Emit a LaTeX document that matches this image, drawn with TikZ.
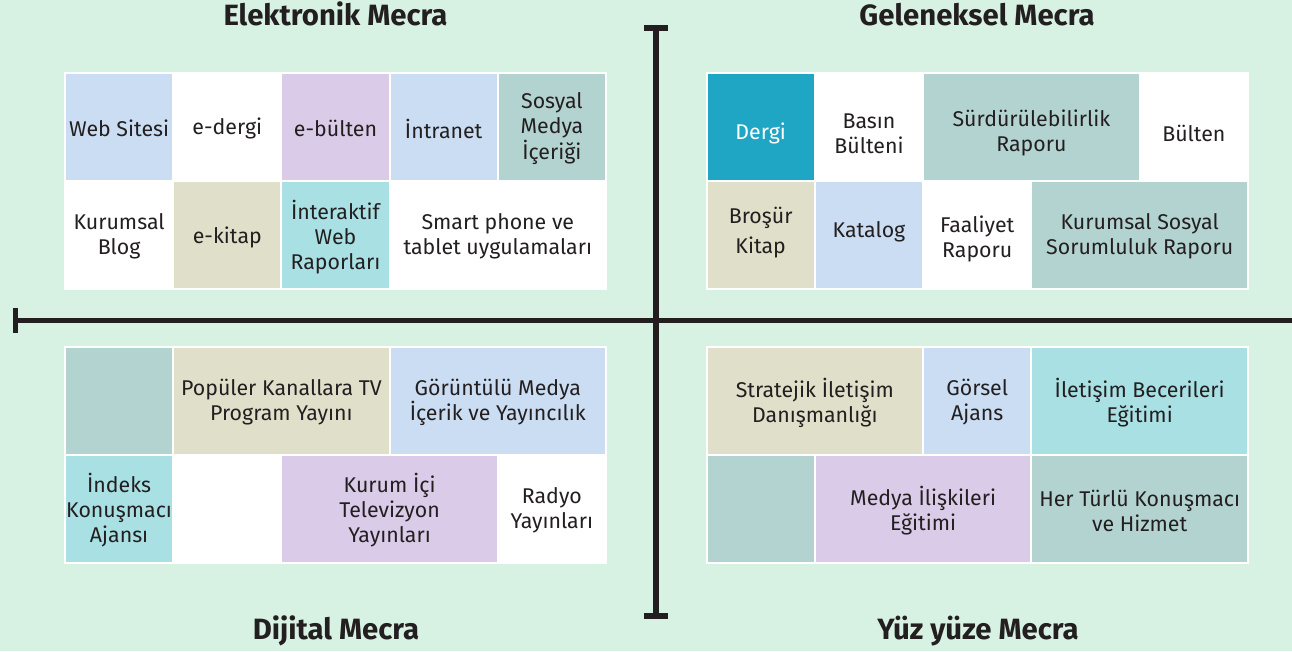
\documentclass[tikz,border=0pt]{standalone}
\usepackage{fontspec}
\setmainfont{Fira Sans}
\definecolor{bg}{HTML}{D7F2E2}
\definecolor{ink}{HTML}{231F20}
\definecolor{lblue}{HTML}{CADDF2}
\definecolor{lav}{HTML}{DACBE8}
\definecolor{tgray}{HTML}{B3D3D1}
\definecolor{beige}{HTML}{E0E0CA}
\definecolor{lcyan}{HTML}{A8E0E3}
\definecolor{dcyan}{HTML}{1FA6C4}
\tikzset{
  cellbox/.style={draw=white, line width=1.5pt, inner sep=0pt, outer sep=0pt, rectangle},
  celltext/.style={text=ink, align=center, inner sep=0pt, font=\fontsize{16}{18.8}\selectfont},
  title/.style={text=ink, anchor=base, inner sep=0pt, font=\fontsize{22}{26}\selectfont\bfseries},
  axis/.style={draw=ink, line width=4.3pt},
}
% \cell[yoffset]{name}{x1}{y1}{x2}{y2}{colour}{text}
\newcommand\cell[8][0]{%
  \node[cellbox, fill=#7, minimum width={(#5-#3)*0.75pt}, minimum height={(#6-#4)*0.75pt}]
    (#2) at ({(#3+#5)/2},{(#4+#6)/2}) {};
  \node[celltext] (#2t) at ([yshift={-(#1+1.5)*0.75pt}]#2.center) {#8};}
\begin{document}
\begin{tikzpicture}[x=0.75pt,y=-0.75pt]
\fill[bg] (0,0) rectangle (1292,651);
\useasboundingbox (0,0) rectangle (1292,651);
% axes
\coordinate (vt) at (656,28);
\coordinate (vb) at (656,616);
\coordinate (hl) at (15.5,320.5);
\coordinate (hr) at (1292,320.5);
\draw[axis] (vt) -- (vb);
\draw[axis, line width=3.8pt] ([xshift=-9pt]vt) -- ([xshift=9pt]vt);
\draw[axis, line width=3.8pt] ([xshift=-9pt]vb) -- ([xshift=9pt]vb);
\draw[axis] (hl) -- (hr);
\draw[axis] ([yshift=9.5pt]hl) -- ([yshift=-9pt]hl);
% titles
\node[title] (t1) at (335.5,25) {Elektronik Mecra};
\node[title] (t2) at (977,25) {Geleneksel Mecra};
\node[title] (t3) at (336,639) {Dijital Mecra};
\node[title] (t4) at (978,639) {Yüz yüze Mecra};
% Elektronik
\cell{web}{65}{73}{173.2}{181}{lblue}{Web Sitesi}
\cell{edergi}{173.2}{73}{281.4}{181}{white}{e-dergi}
\cell{ebulten}{281.4}{73}{389.6}{181}{lav}{e-bülten}
\cell{intranet}{389.6}{73}{497.8}{181}{lblue}{İntranet}
\cell{sosyal}{497.8}{73}{606}{181}{tgray}{Sosyal\\Medya\\İçeriği}
\cell{blog}{65}{181}{173.2}{289}{white}{Kurumsal\\Blog}
\cell[1]{ekitap}{173.2}{181}{281.4}{289}{beige}{e-kitap}
\cell[1]{interaktif}{281.4}{181}{389.6}{289}{lcyan}{İnteraktif\\Web\\Raporları}
\cell{smart}{389.6}{181}{606}{289}{white}{Smart phone ve\\tablet uygulamaları}
% Geleneksel
\cell[5]{dergi}{706.5}{73}{814.8}{181}{dcyan}{\textcolor{white}{Dergi}}
\cell[5]{basin}{814.8}{73}{923.1}{181}{white}{Basın\\Bülteni}
\cell[4]{surd}{923.1}{73}{1139.7}{181}{tgray}{Sürdürülebilirlik\\Raporu}
\cell[5]{bulten}{1139.7}{73}{1248}{181}{white}{Bülten}
\cell[-4]{brosur}{706.5}{181}{814.8}{289}{beige}{Broşür\\[4pt]Kitap}
\cell[-5]{katalog}{814.8}{181}{923.1}{289}{lblue}{Katalog}
\cell[2]{faaliyet}{923.1}{181}{1031.4}{289}{white}{Faaliyet\\Raporu}
\cell{kssr}{1031.4}{181}{1248}{289}{tgray}{Kurumsal Sosyal\\Sorumluluk Raporu}
% Dijital
\cell{dbos}{65}{347}{173.2}{455}{tgray}{}
\cell{populer}{173.2}{347}{389.6}{455}{beige}{Popüler Kanallara TV\\Program Yayını}
\cell{goruntulu}{389.6}{347}{606}{455}{lblue}{Görüntülü Medya\\İçerik ve Yayıncılık}
\cell{indeks}{65}{455}{173.2}{563}{lcyan}{İndeks\\Konuşmacı\\Ajansı}
\cell{dbos2}{173.2}{455}{281.4}{563}{white}{}
\cell{kurumici}{281.4}{455}{497.8}{563}{lav}{Kurum İçi\\Televizyon\\Yayınları}
\cell{radyo}{497.8}{455}{606}{563}{white}{Radyo\\Yayınları}
% Yuz yuze
\cell{stratejik}{706.5}{347}{923.1}{455}{beige}{Stratejik İletişim\\Danışmanlığı}
\cell{gorsel}{923.1}{347}{1031.4}{455}{lblue}{Görsel\\Ajans}
\cell{iletisim}{1031.4}{347}{1248}{455}{lcyan}{İletişim Becerileri\\Eğitimi}
\cell{ybos}{706.5}{455}{814.8}{563}{tgray}{}
\cell{medya}{814.8}{455}{1031.4}{563}{lav}{Medya İlişkileri\\Eğitimi}
\cell{herturlu}{1031.4}{455}{1248}{563}{tgray}{Her Türlü Konuşmacı\\ve Hizmet}
\end{tikzpicture}
\end{document}
